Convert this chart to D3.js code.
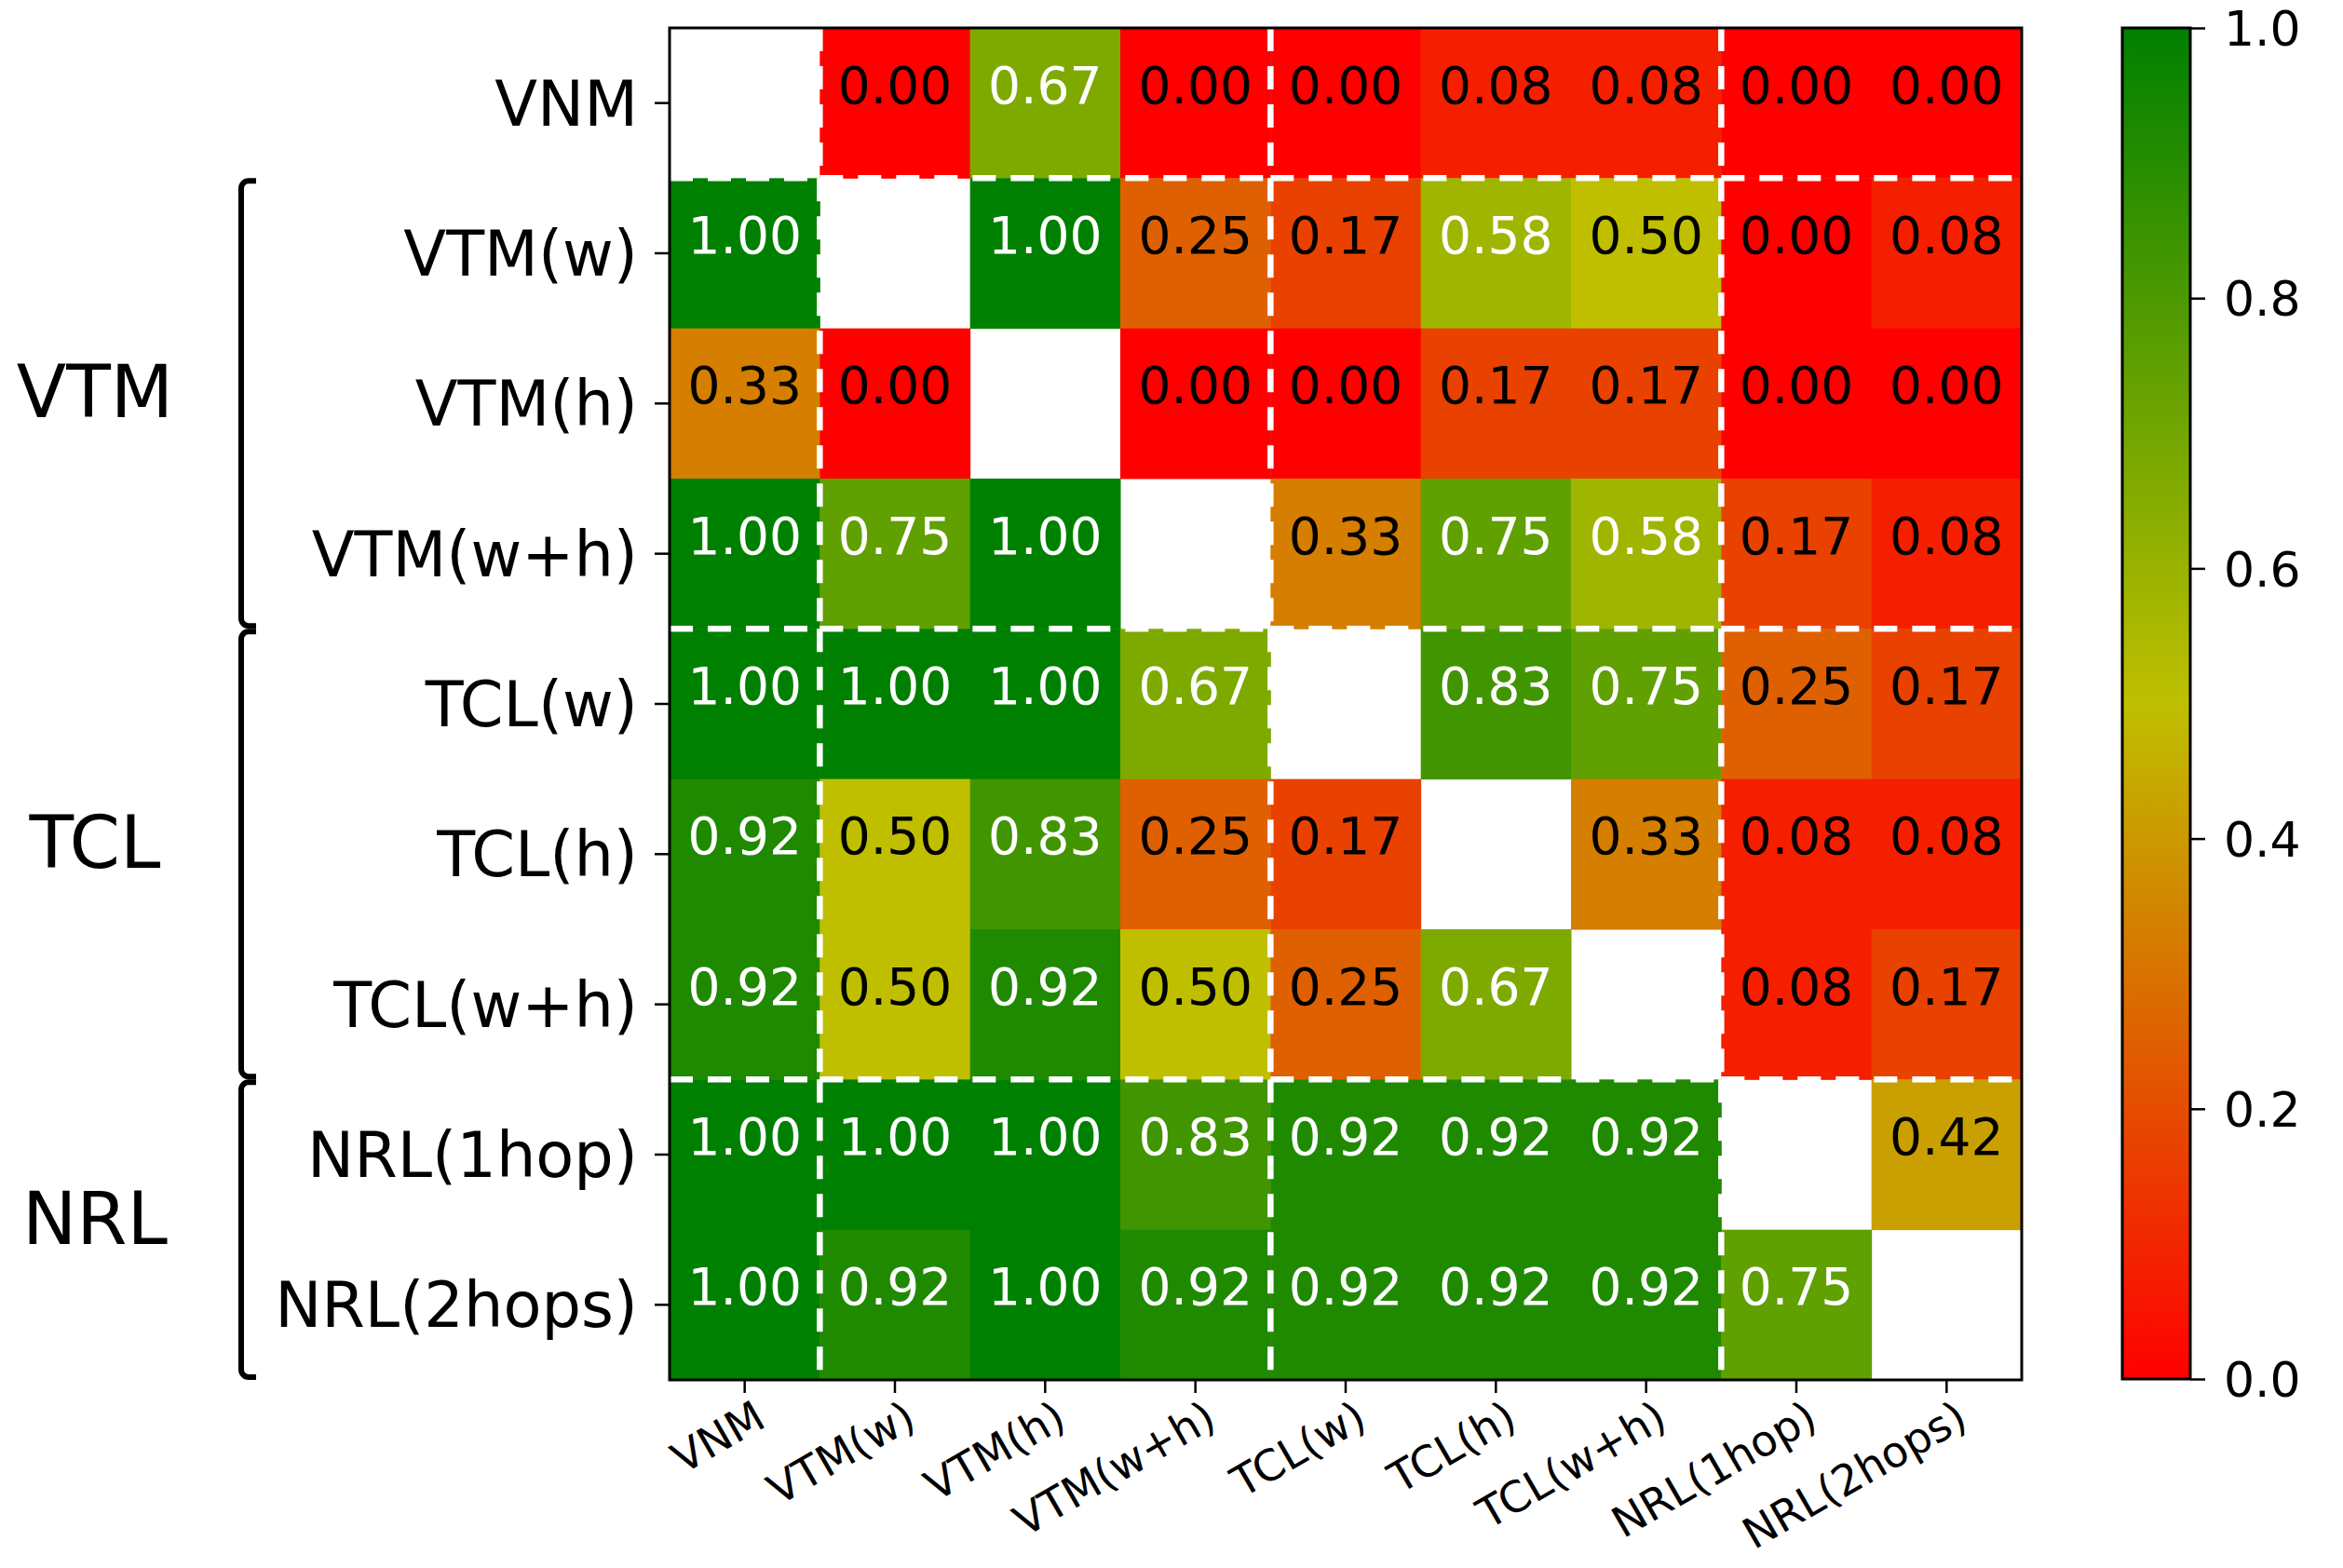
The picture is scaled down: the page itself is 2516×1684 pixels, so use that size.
<!DOCTYPE html>
<html>
<head>
    <meta charset="UTF-8">
    <script type="text/javascript" src="https://d3js.org/d3.v7.min.js"></script>
    <style>
        body { margin: 0; background: #fff; }
        text { font-family: "DejaVu Sans", sans-serif; }
    </style>
</head>
<body>
    <svg width="2516" height="1684"></svg>
    <script>
        // labels for rows and columns (same order)
        var labels = ["VNM", "VTM(w)", "VTM(h)", "VTM(w+h)", "TCL(w)", "TCL(h)", "TCL(w+h)", "NRL(1hop)", "NRL(2hops)"];

        // one row per method, null = diagonal (left blank)
        var rowVNM      = [null, 0.00, 0.67, 0.00, 0.00, 0.08, 0.08, 0.00, 0.00];
        var rowVTMw     = [1.00, null, 1.00, 0.25, 0.17, 0.58, 0.50, 0.00, 0.08];
        var rowVTMh     = [0.33, 0.00, null, 0.00, 0.00, 0.17, 0.17, 0.00, 0.00];
        var rowVTMwh    = [1.00, 0.75, 1.00, null, 0.33, 0.75, 0.58, 0.17, 0.08];
        var rowTCLw     = [1.00, 1.00, 1.00, 0.67, null, 0.83, 0.75, 0.25, 0.17];
        var rowTCLh     = [0.92, 0.50, 0.83, 0.25, 0.17, null, 0.33, 0.08, 0.08];
        var rowTCLwh    = [0.92, 0.50, 0.92, 0.50, 0.25, 0.67, null, 0.08, 0.17];
        var rowNRL1hop  = [1.00, 1.00, 1.00, 0.83, 0.92, 0.92, 0.92, null, 0.42];
        var rowNRL2hops = [1.00, 0.92, 1.00, 0.92, 0.92, 0.92, 0.92, 0.75, null];
        var matrix = [rowVNM, rowVTMw, rowVTMh, rowVTMwh, rowTCLw, rowTCLh, rowTCLwh, rowNRL1hop, rowNRL2hops];

        // family groups: name, first and last label
        var groupNames = ["VTM", "TCL", "NRL"];
        var groupFirst = ["VTM(w)", "TCL(w)", "NRL(1hop)"];
        var groupLast  = ["VTM(w+h)", "TCL(w+h)", "NRL(2hops)"];
        // block boundaries (index in labels) for the dashed separators
        var blockEdges = [0, 1, 4, 7, 9];

        var cbTicks = [0, 0.2, 0.4, 0.6, 0.8, 1.0];

        var svg = d3.select("svg");
        var plot = {left: 719, top: 30, size: 1452};

        var x = d3.scaleBand().domain(labels).range([plot.left, plot.left + plot.size]);
        var y = d3.scaleBand().domain(labels).range([plot.top, plot.top + plot.size]);
        // red -> 'y' -> green, like the matplotlib colormap
        var color = d3.scaleLinear().domain([0, 0.5, 1]).range(["#ff0000", "#bfbf00", "#008000"]);

        var cells = [];
        matrix.forEach(function(row, i){
            row.forEach(function(v, j){
                if (v !== null) cells.push({r: labels[i], c: labels[j], v: v});
            });
        });

        var g = svg.append("g");
        g.selectAll(".cell")
            .data(cells)
            .enter()
            .append("rect")
            .attr("x", function(d){ return x(d.c); })
            .attr("y", function(d){ return y(d.r); })
            .attr("width", x.bandwidth() + 0.5)
            .attr("height", y.bandwidth() + 0.5)
            .attr("fill", function(d){ return color(d.v); });

        g.selectAll(".val")
            .data(cells)
            .enter()
            .append("text")
            .attr("x", function(d){ return x(d.c) + x.bandwidth() / 2; })
            .attr("y", function(d){ return y(d.r) + y.bandwidth() / 2; })
            .attr("text-anchor", "middle")
            .attr("font-size", 55)
            .attr("fill", function(d){ return d.v > 0.5 ? "#fff" : "#000"; })
            .text(function(d){ return d.v.toFixed(2); });

        // dashed separators, one segment per block so the dash phase restarts
        var step = x.step();
        var segs = [];
        blockEdges.slice(1, -1).forEach(function(b){
            for (var k = 0; k < blockEdges.length - 1; k++) {
                var a0 = plot.left + blockEdges[k] * step, a1 = plot.left + blockEdges[k + 1] * step;
                segs.push({x1: a0, x2: a1, y1: plot.top + b * step, y2: plot.top + b * step});
                var b0 = plot.top + blockEdges[k] * step, b1 = plot.top + blockEdges[k + 1] * step;
                segs.push({x1: plot.left + b * step, x2: plot.left + b * step, y1: b0, y2: b1});
            }
        });
        g.selectAll(".sep")
            .data(segs)
            .enter()
            .append("line")
            .attr("x1", function(d){ return d.x1; })
            .attr("x2", function(d){ return d.x2; })
            .attr("y1", function(d){ return d.y1; })
            .attr("y2", function(d){ return d.y2; })
            .attr("stroke", "#fff")
            .attr("stroke-width", 6.5)
            .attr("stroke-dasharray", "25,16");

        // frame
        svg.append("rect")
            .attr("x", plot.left).attr("y", plot.top)
            .attr("width", plot.size).attr("height", plot.size)
            .attr("fill", "none").attr("stroke", "#000").attr("stroke-width", 3);

        // y axis
        var yAxis = d3.axisLeft(y).tickSize(16).tickSizeOuter(0).tickPadding(18);
        var gy = svg.append("g").attr("transform", "translate(" + plot.left + ",0)").call(yAxis);
        gy.select(".domain").remove();
        gy.selectAll(".tick line").attr("stroke", "#000").attr("stroke-width", 2.5);
        gy.selectAll(".tick text")
            .attr("font-size", 67)
            .attr("font-family", "DejaVu Sans")
            .attr("fill", "#000")
            .attr("dy", "0.36em");

        // x axis with rotated labels
        var xAxis = d3.axisBottom(x).tickSize(14).tickSizeOuter(0);
        var gx = svg.append("g").attr("transform", "translate(0," + (plot.top + plot.size) + ")").call(xAxis);
        gx.select(".domain").remove();
        gx.selectAll(".tick line").attr("stroke", "#000").attr("stroke-width", 2.5);
        gx.selectAll(".tick text")
            .attr("font-size", 46)
            .attr("font-family", "DejaVu Sans")
            .attr("fill", "#000")
            .attr("x", null).attr("y", null).attr("dy", null)
            .attr("text-anchor", "end")
            .attr("transform", "translate(25,49) rotate(-30)");

        // group brackets and names
        var bx = 259, hook = 16, rad = 8;
        groupNames.forEach(function(name, i){
            var y0 = y(groupFirst[i]) + 3;
            var y1 = y(groupLast[i]) + y.bandwidth() - 3;
            var p = d3.path();
            p.moveTo(bx + hook, y0);
            p.lineTo(bx + rad, y0);
            p.arcTo(bx, y0, bx, y0 + rad, rad);
            p.lineTo(bx, y1 - rad);
            p.arcTo(bx, y1, bx + rad, y1, rad);
            p.lineTo(bx + hook, y1);
            svg.append("path")
                .attr("d", p.toString())
                .attr("fill", "none")
                .attr("stroke", "#000")
                .attr("stroke-width", 6);
            svg.append("text")
                .attr("x", 102)
                .attr("y", (y0 + y1) / 2 + 15)
                .attr("text-anchor", "middle")
                .attr("font-size", 78)
                .attr("fill", "#000")
                .text(name);
        });

        // colorbar
        var cb = {left: 2279, width: 73, top: 30, bottom: 1481};
        var defs = svg.append("defs");
        var grad = defs.append("linearGradient")
            .attr("id", "cbgrad")
            .attr("x1", 0).attr("y1", 1).attr("x2", 0).attr("y2", 0);
        color.domain().forEach(function(v){
            grad.append("stop").attr("offset", v).attr("stop-color", color(v));
        });
        svg.append("rect")
            .attr("x", cb.left).attr("y", cb.top)
            .attr("width", cb.width).attr("height", cb.bottom - cb.top)
            .attr("fill", "url(#cbgrad)")
            .attr("stroke", "#000").attr("stroke-width", 3);

        var cScale = d3.scaleLinear().domain([0, 1]).range([cb.bottom, cb.top]);
        var cAxis = d3.axisRight(cScale).tickValues(cbTicks).tickFormat(d3.format(".1f"))
            .tickSize(16).tickSizeOuter(0).tickPadding(20);
        var gc = svg.append("g").attr("transform", "translate(" + (cb.left + cb.width) + ",0)").call(cAxis);
        gc.select(".domain").remove();
        gc.selectAll(".tick line").attr("stroke", "#000").attr("stroke-width", 2.5);
        gc.selectAll(".tick text")
            .attr("font-size", 52)
            .attr("font-family", "DejaVu Sans")
            .attr("fill", "#000")
            .attr("dy", "0.36em");
    </script>
</body>
</html>
